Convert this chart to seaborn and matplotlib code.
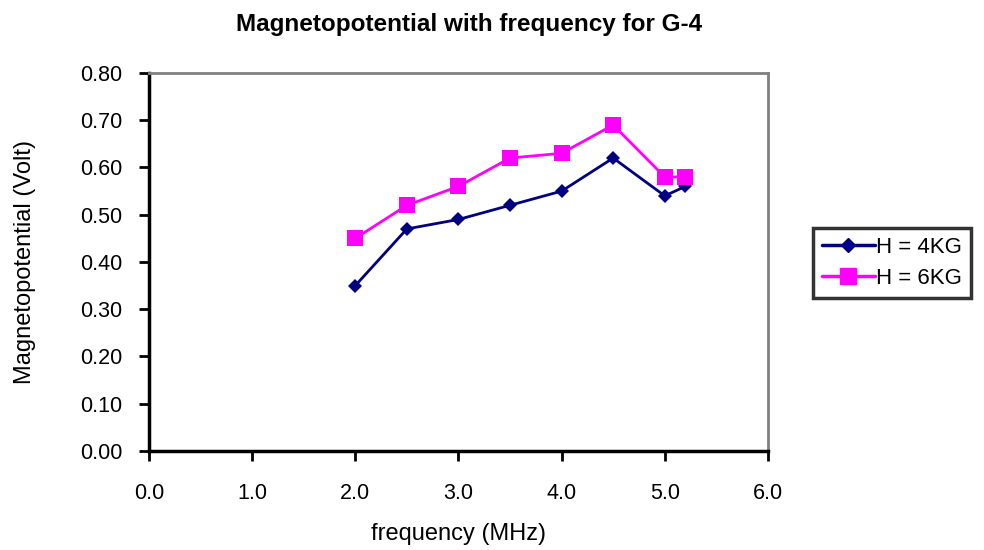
import pandas as pd
import matplotlib
matplotlib.use("Agg")
import matplotlib.pyplot as plt
import seaborn as sns

# data
freq = [2.0, 2.5, 3.0, 3.5, 4.0, 4.5, 5.0, 5.2]
h4kg = [0.35, 0.47, 0.49, 0.52, 0.55, 0.62, 0.54, 0.56]
h6kg = [0.45, 0.52, 0.56, 0.62, 0.63, 0.69, 0.58, 0.58]
series_names = ["H = 4KG", "H = 6KG"]

df = pd.DataFrame({
    "freq": freq * 2,
    "volt": h4kg + h6kg,
    "series": [series_names[0]] * len(freq) + [series_names[1]] * len(freq),
})

sns.set_style("white")
plt.rcParams["font.family"] = ["Liberation Sans", "DejaVu Sans"]
plt.rcParams["text.color"] = "black"
plt.rcParams["axes.labelcolor"] = "black"

fig = plt.figure(figsize=(9.84, 5.5), dpi=100)
ax = fig.add_axes([0.1514, 0.18, 0.629, 0.6873])

sns.lineplot(data=df, x="freq", y="volt", hue="series", style="series",
             palette={series_names[0]: "#000080", series_names[1]: "#FF00FF"},
             markers={series_names[0]: "D", series_names[1]: "s"},
             dashes=False, linewidth=2, markeredgewidth=0, ax=ax,
             legend=False)
# marker sizes per series
ax.lines[0].set_markersize(7)
ax.lines[1].set_markersize(11)

ax.set_xlim(0, 6)
ax.set_ylim(0, 0.8)
ax.set_xticks([0, 1, 2, 3, 4, 5, 6])
ax.set_xticklabels([f"{v:.1f}" for v in [0, 1, 2, 3, 4, 5, 6]])
ax.set_yticks([i / 10 for i in range(9)])
ax.set_yticklabels([f"{i / 10:.2f}" for i in range(9)])
ax.tick_params(axis="both", direction="out", length=7, width=2,
               labelsize=15.5, colors="black", bottom=True, left=True)
ax.tick_params(axis="y", pad=12)
ax.tick_params(axis="x", pad=16)

for side in ["left", "bottom"]:
    ax.spines[side].set_color("black")
    ax.spines[side].set_linewidth(2.5)
for side in ["top", "right"]:
    ax.spines[side].set_color("#808080")
    ax.spines[side].set_linewidth(2)

ax.set_xlabel("frequency (MHz)", fontsize=17, labelpad=14)
ax.set_ylabel("Magnetopotential (Volt)", fontsize=17, labelpad=32)
fig.text(0.477, 0.955, "Magnetopotential with frequency for G-4",
         ha="center", va="center", fontsize=17.5, fontweight="bold")

handles = [
    plt.Line2D([], [], color="#000080", marker="D", markersize=7, lw=2.5),
    plt.Line2D([], [], color="#FF00FF", marker="s", markersize=11, lw=2.5),
]
leg = fig.legend(handles, series_names, loc="center left",
                 bbox_to_anchor=(0.826, 0.522), fontsize=16,
                 frameon=True, fancybox=False, edgecolor="black",
                 handlelength=2.4, handletextpad=0.05, borderpad=0.4,
                 labelspacing=0.45, borderaxespad=0)
leg.get_frame().set_linewidth(2.5)

fig.savefig("out.png", dpi=100, facecolor="white")
